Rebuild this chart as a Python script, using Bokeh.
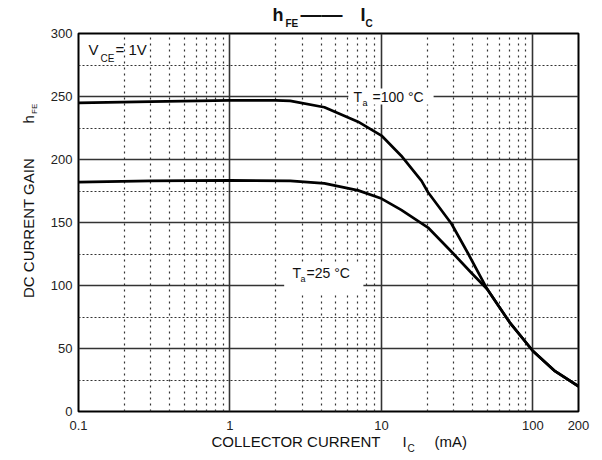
import math
from bokeh.plotting import figure
from bokeh.models import FixedTicker, Label, Range1d, BoxAnnotation, GridBox
from bokeh.embed import file_html
from bokeh.resources import INLINE

# ---- data ----
ic_100 = [0.1, 0.3, 1, 2, 2.5, 4.2, 7, 10, 13.5, 18.4, 20.3, 29, 37.5, 50, 70, 100, 140, 200]
hfe_100 = [245, 246, 247, 247, 246.5, 241.5, 230, 219, 203, 183, 174, 149, 125, 97, 71, 48, 32, 20]

ic_25 = [0.1, 0.3, 1, 2.5, 4.2, 7, 10, 13.5, 20.3, 30, 39.6, 50, 70, 100, 140, 200]
hfe_25 = [182, 183, 183.5, 183, 181, 175.5, 169, 160, 146, 125, 109.5, 97, 71, 48, 32, 20]

x_ticks = [0.1, 1, 10, 100, 200]
x_tick_labels = ["0.1", "1", "10", "100", "200"]
y_ticks = [0, 50, 100, 150, 200, 250, 300]

x_major_grid = [1, 10, 100]
x_minor_grid = [0.2, 0.3, 0.4, 0.5, 0.6, 0.7, 0.8, 0.9,
                2, 3, 4, 5, 6, 7, 8, 9,
                20, 30, 40, 50, 60, 70, 80, 90]
y_major_grid = [50, 100, 150, 200, 250]
y_minor_grid = [25, 75, 125, 175, 225, 275]

FONT = "Liberation Sans"
GRID = "#333333"
INK = "#111111"
W, H = 600, 458

# ---------------- main chart ----------------
p = figure(width=W, height=H, x_axis_type="log",
           x_range=Range1d(0.1, 200), y_range=Range1d(0, 300),
           output_backend="svg", toolbar_location=None,
           min_border_left=78, min_border_right=22,
           min_border_top=33, min_border_bottom=47)

p.background_fill_color = "white"
p.border_fill_color = "white"
p.outline_line_color = "black"
p.outline_line_width = 2

p.xgrid.ticker = FixedTicker(ticks=x_major_grid, minor_ticks=x_minor_grid)
p.xgrid.grid_line_color = GRID
p.xgrid.grid_line_width = 1.6
p.xgrid.minor_grid_line_color = GRID
p.xgrid.minor_grid_line_width = 1.2
p.xgrid.minor_grid_line_dash = "2 4"

p.ygrid.ticker = FixedTicker(ticks=y_major_grid, minor_ticks=y_minor_grid)
p.ygrid.grid_line_color = GRID
p.ygrid.grid_line_width = 1.6
p.ygrid.minor_grid_line_color = GRID
p.ygrid.minor_grid_line_width = 1.2
p.ygrid.minor_grid_line_dash = "2 2"

for ax in (p.xaxis, p.yaxis):
    ax.axis_line_color = None
    ax.major_tick_line_color = None
    ax.minor_tick_line_color = None
    ax.major_tick_in = 0
    ax.major_tick_out = 0
    ax.minor_tick_in = 0
    ax.minor_tick_out = 0
    ax.major_label_text_font = FONT
    ax.major_label_text_font_size = "13px"
    ax.major_label_text_color = "#222222"

p.xaxis.ticker = FixedTicker(ticks=x_ticks)
p.xaxis.major_label_overrides = dict(zip(x_ticks, x_tick_labels))
p.xaxis.major_label_standoff = 9
p.yaxis.ticker = FixedTicker(ticks=y_ticks)
p.yaxis.major_label_standoff = 6

p.line(ic_100, hfe_100, line_color="black", line_width=2.7)
p.line(ic_25, hfe_25, line_color="black", line_width=2.7)

# white backing behind the curve labels (hides the grid line)
p.add_layout(BoxAnnotation(left=6.05, right=22.1, bottom=243.7, top=256.3,
                           fill_color="white", fill_alpha=1, line_color=None))
p.add_layout(BoxAnnotation(left=2.28, right=7.6, bottom=94.4, top=117.5,
                           fill_color="white", fill_alpha=1, line_color=None))

# ---------------- transparent text overlay (same size, same cell) ----------------
ov = figure(width=W, height=H, x_axis_location=None, y_axis_location=None,
            x_range=Range1d(0, 1), y_range=Range1d(0, 1),
            min_border=0, output_backend="svg", toolbar_location=None)
ov.outline_line_color = None
ov.background_fill_color = None
ov.border_fill_color = None
ov.grid.visible = False
for f in (p, ov):
    try:
        f.frame_align = False
    except Exception:
        pass


def lab(text, px, py, size, bold=False, align="left", angle=0):
    """px, py: page pixel position (py from the top) of the text's vertical centre."""
    ov.add_layout(Label(x=px, y=H - py, x_units="screen", y_units="screen", text=text,
                        text_font=FONT, text_font_size=f"{size}px",
                        text_font_style="bold" if bold else "normal",
                        text_color=INK, text_align=align, text_baseline="middle",
                        angle=angle))


# title  h_FE —— I_C
lab("h", 272, 14.5, 18, bold=True)
lab("FE", 285, 22.5, 10, bold=True)
lab("——", 300, 13, 21, bold=True)
lab("I", 360, 14.5, 18, bold=True)
lab("C", 365, 22.5, 10, bold=True)

# V_CE = 1V
lab("V", 88, 49, 15)
lab("CE", 100, 57.5, 10)
lab("= 1V", 115, 49, 15)

# T_a = 100 °C
lab("T", 353, 96, 14)
lab("a", 362, 102.7, 9)
lab("=100 °C", 372, 96, 14)

# T_a = 25 °C
lab("T", 292, 272.5, 14)
lab("a", 300, 278.7, 9)
lab("=25 °C", 306, 272.5, 14)

# y-axis title (rotated)
lab("DC CURRENT GAIN", 27.5, 227.5, 15, align="center", angle=math.pi / 2)
lab("h", 27.5, 123, 15, angle=math.pi / 2)
lab("FE", 34, 113.5, 8, angle=math.pi / 2)

# x-axis title
lab("COLLECTOR CURRENT", 211, 440.5, 15)
lab("I", 402, 440.5, 15)
lab("C", 407, 447.5, 10)
lab("(mA)", 434, 440.5, 15)

layout = GridBox(children=[(p, 0, 0), (ov, 0, 0)])

open("out.html", "w").write(file_html(layout, INLINE))
